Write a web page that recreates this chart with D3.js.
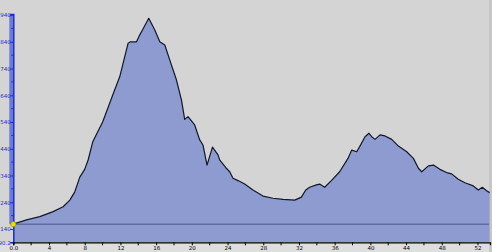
<!DOCTYPE html>
<html><head><meta charset="utf-8">
<script src="https://cdn.jsdelivr.net/npm/d3@7"></script>
<style>html,body{margin:0;padding:0;background:#d4d4d4;overflow:hidden}</style>
</head><body>
<svg id="c" width="492" height="252"></svg>
<script>
const distance = [0,1.48,2.97,4.46,5.58,6.33,6.89,7.45,8.01,8.38,8.9,10.02,11.14,11.93,12.86,13.12,13.8,14.17,14.47,15.17,15.85,16.41,16.97,17.72,18.28,18.84,19.2,19.57,20.32,20.88,21.25,21.7,22.31,22.93,23.12,23.87,24.24,24.61,25.17,25.92,26.85,27.97,29.09,30.21,31.52,32.27,32.76,33.2,33.95,34.32,34.88,35.63,36.56,37.49,37.91,38.47,38.8,39.4,39.84,40.15,40.52,41.08,41.64,42.39,43.14,44.07,44.82,45.38,45.75,46.5,47.06,47.79,48.54,49.1,49.85,50.59,51.53,52.09,52.54,53.02,53.36];
const elevation = [158,174,186,205,223,248,279,334,364,398,466,541,641,710,835,840,840,866,884,928,884,840,828,753,697,622,550,560,529,473,454,379,446,417,398,367,354,330,321,308,286,263,255,251,248,259,286,296,305,308,296,321,354,404,435,429,448,485,498,485,475,492,488,475,450,429,404,367,354,376,379,363,351,346,326,313,301,286,296,283,276];
const yTickLabels = [140,240,340,440,540,640,740,840,940];
const yMinorTicks = [190,290,390,490,590,690,790,890];
const yMin = 90.2, yMax = 944;
const xTickLabels = [0,4,8,12,16,20,24,28,32,36,40,44,48,52];
const xMinorTicks = [2,6,10,14,18,22,26,30,34,38,42,46,50];
const xMax = 53.4;
const baseLevel = elevation[0];

const svg = d3.select("#c");
const L = 13.3, R = 490, T = 14, B = 242.3;
const x = d3.scaleLinear().domain([0, xMax]).range([L, R]);
const y = d3.scaleLinear().domain([yMin, yMax]).range([B, T]);

// bottom label strip
svg.append("rect").attr("x",0).attr("y",B).attr("width",492).attr("height",252-B).attr("fill","#dedede");
svg.append("rect").attr("x",R-1).attr("y",0).attr("width",492-R+1).attr("height",252).attr("fill","#c6c6c6");

const pts = distance.map((d,i)=>[d, elevation[i]]);
const area = d3.area().x(d=>x(d[0])).y0(y(yMin)).y1(d=>y(d[1]));
const line = d3.line().x(d=>x(d[0])).y(d=>y(d[1]));
svg.append("path").datum(pts).attr("d",area).attr("fill","#8d9bd0");
svg.append("path").datum(pts).attr("d",line).attr("fill","none").attr("stroke","#101828").attr("stroke-width",1.2).attr("stroke-linejoin","round");

// base level line
svg.append("line").attr("x1",x(0)).attr("x2",R-1).attr("y1",y(baseLevel)).attr("y2",y(baseLevel))
  .attr("stroke","#4a5690").attr("stroke-width",1);

// y axis stripe
svg.append("rect").attr("x",L-4).attr("y",T).attr("width",4).attr("height",y(baseLevel)-T).attr("fill","#6c7ad8");

// y axis
const yAxis = d3.axisLeft(y).tickValues(yTickLabels.concat([yMin])).tickSize(3).tickFormat(d=>d===yMin?"90.2":d);
const gy = svg.append("g").attr("transform",`translate(${L},0)`).call(yAxis);
gy.select(".domain").attr("stroke","#1c2ccc").attr("stroke-width",1.5);
gy.selectAll(".tick line").attr("stroke","#1c2ccc").attr("stroke-width",1);
gy.selectAll(".tick text").attr("fill","#1c2ccc").attr("font-family","DejaVu Sans").attr("font-size",5.5).attr("x",-2.5);
gy.selectAll(".minor").data(yMinorTicks).enter().append("line")
  .attr("x1",-2).attr("x2",0).attr("y1",d=>y(d)).attr("y2",d=>y(d)).attr("stroke","#1c2ccc");

// x axis
const xAxis = d3.axisBottom(x).tickValues(xTickLabels).tickSize(3).tickFormat(d=>d===0?"0.0":d);
const gx = svg.append("g").attr("transform",`translate(0,${B})`).call(xAxis);
gx.select(".domain").attr("stroke","#000").attr("stroke-width",1.2);
gx.selectAll(".tick line").attr("stroke","#000");
gx.selectAll(".tick text").attr("fill","#000").attr("font-family","DejaVu Sans").attr("font-size",5.5).attr("y",4);
gx.selectAll(".minor").data(xMinorTicks).enter().append("line")
  .attr("x1",d=>x(d)).attr("x2",d=>x(d)).attr("y1",0).attr("y2",3).attr("stroke","#000");

// start marker
svg.append("circle").attr("cx",x(distance[0])).attr("cy",y(elevation[0])).attr("r",2.6)
  .attr("fill","#f0e000").attr("stroke","#8a8000").attr("stroke-width",0.6);
</script>
</body></html>
